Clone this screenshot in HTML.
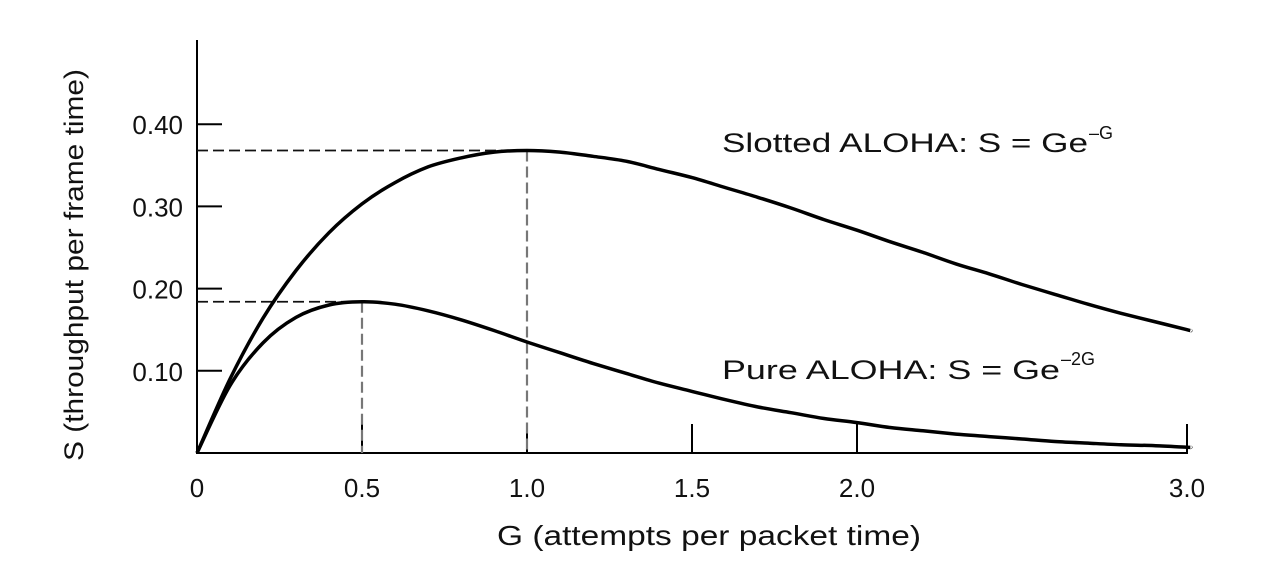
<!DOCTYPE html>
<html><head><meta charset="utf-8"><style>
html,body{margin:0;padding:0;background:#fff;}
svg{display:block;font-family:"Liberation Sans",Arial,sans-serif;}
</style></head><body>
<svg id="chart" width="1276" height="571" viewBox="0 0 1276 571">
<g id="axes"></g>
<g id="guides"></g>
<g id="series"></g>
<text x="722" y="152" font-size="27" textLength="366" lengthAdjust="spacingAndGlyphs" fill="#111">Slotted ALOHA: S = Ge</text>
<text x="1089" y="139" font-size="18" fill="#111">–G</text>
<text x="722" y="379" font-size="27" textLength="338" lengthAdjust="spacingAndGlyphs" fill="#111">Pure ALOHA: S = Ge</text>
<text x="1061" y="365" font-size="18" fill="#111">–2G</text>
<text x="497" y="545" font-size="28" textLength="424" lengthAdjust="spacingAndGlyphs" fill="#111">G (attempts per packet time)</text>
<text transform="translate(83,265) rotate(-90)" font-size="27" textLength="392" lengthAdjust="spacingAndGlyphs" text-anchor="middle" fill="#111">S (throughput per frame time)</text>
</svg>
<script>
const gValues = [0,0.1,0.2,0.3,0.4,0.5,0.6,0.7,0.8,0.9,1.0,1.1,1.2,1.3,1.4,1.5,1.6,1.7,1.8,1.9,2.0,2.1,2.2,2.3,2.4,2.5,2.6,2.7,2.8,2.9,3.0,3.01];
const slottedValues = [0,0.090,0.164,0.222,0.268,0.303,0.329,0.348,0.359,0.366,0.368,0.366,0.361,0.355,0.345,0.335,0.323,0.311,0.298,0.284,0.271,0.257,0.244,0.230,0.218,0.205,0.193,0.181,0.170,0.160,0.150,0.149];
const pureValues = [0,0.082,0.134,0.165,0.180,0.184,0.181,0.173,0.162,0.149,0.135,0.122,0.109,0.097,0.085,0.075,0.065,0.056,0.049,0.042,0.037,0.031,0.027,0.023,0.020,0.017,0.014,0.012,0.010,0.009,0.007,0.007];
const xTicks = [0,0.5,1.0,1.5,2.0,3.0];
const xTickLabels = ["0","0.5","1.0","1.5","2.0","3.0"];
const yTicks = [0.10,0.20,0.30,0.40];
const yTickLabels = ["0.10","0.20","0.30","0.40"];
const peakG = [1.0,0.5];
const peakS = [0.368,0.184];

const NS="http://www.w3.org/2000/svg";
const X0=197,XU=330,Y0=453,YU=822;
function xs(g){return X0+g*XU;}
function ys(s){return Y0-s*YU;}
function mk(tag,attrs,parent){const e=document.createElementNS(NS,tag);for(const k in attrs)e.setAttribute(k,attrs[k]);parent.appendChild(e);return e;}
const axes=document.getElementById('axes'),guides=document.getElementById('guides'),series=document.getElementById('series');

let l=mk('line',{x1:X0,y1:40,x2:X0,y2:Y0+1,stroke:'#000','stroke-width':2},axes);


l=mk('line',{x1:X0-1,y1:Y0,x2:xs(3)+1,y2:Y0,stroke:'#000','stroke-width':2},axes);



xTicks.forEach((t,i)=>{
  if(t>0){
    const tk=mk('line',{x1:xs(t),y1:Y0-29,x2:xs(t),y2:Y0,stroke:'#000','stroke-width':2},axes);
    
    
  }
  const tx=mk('text',{x:xs(t),y:Y0+44,'font-size':26,'text-anchor':'middle',fill:'#111'},axes);
  tx.textContent=xTickLabels[i];
  
  
});
yTicks.forEach((t,i)=>{
  const tk=mk('line',{x1:X0,y1:ys(t),x2:X0+25,y2:ys(t),stroke:'#000','stroke-width':2},axes);
  
  
  const tx=mk('text',{x:X0-14,y:ys(t)+10,'font-size':26,'text-anchor':'end',fill:'#111'},axes);
  tx.textContent=yTickLabels[i];
  
  
});

peakG.forEach((g,i)=>{
  const h=mk('line',{x1:X0,y1:ys(peakS[i]),x2:xs(g),y2:ys(peakS[i]),stroke:'#111','stroke-width':1.8,'stroke-dasharray':'11,5'},guides);
  
  
  const v=mk('line',{x1:xs(g),y1:ys(peakS[i]),x2:xs(g),y2:Y0,stroke:'#777','stroke-width':2.2,'stroke-dasharray':'11,5'},guides);
  
  
});

function curve(vals,name){
  const pts=gValues.map((g,i)=>[xs(g),ys(vals[i])]);
  let d='M'+pts[0][0].toFixed(1)+','+pts[0][1].toFixed(1);
  for(let i=0;i<pts.length-1;i++){
    const p0=pts[Math.max(0,i-1)],p1=pts[i],p2=pts[i+1],p3=pts[Math.min(pts.length-1,i+2)];
    const c1x=p1[0]+(p2[0]-p0[0])/6,c1y=p1[1]+(p2[1]-p0[1])/6;
    const c2x=p2[0]-(p3[0]-p1[0])/6,c2y=p2[1]-(p3[1]-p1[1])/6;
    d+=' C'+c1x.toFixed(1)+','+c1y.toFixed(1)+' '+c2x.toFixed(1)+','+c2y.toFixed(1)+' '+p2[0].toFixed(1)+','+p2[1].toFixed(1);
  }
  const p=mk('path',{d:d,fill:'none',stroke:'#000','stroke-width':3.5,'stroke-linejoin':'round'},series);
  
  
}
curve(slottedValues,'slotted-aloha-curve');
curve(pureValues,'pure-aloha-curve');
</script>
</body></html>
